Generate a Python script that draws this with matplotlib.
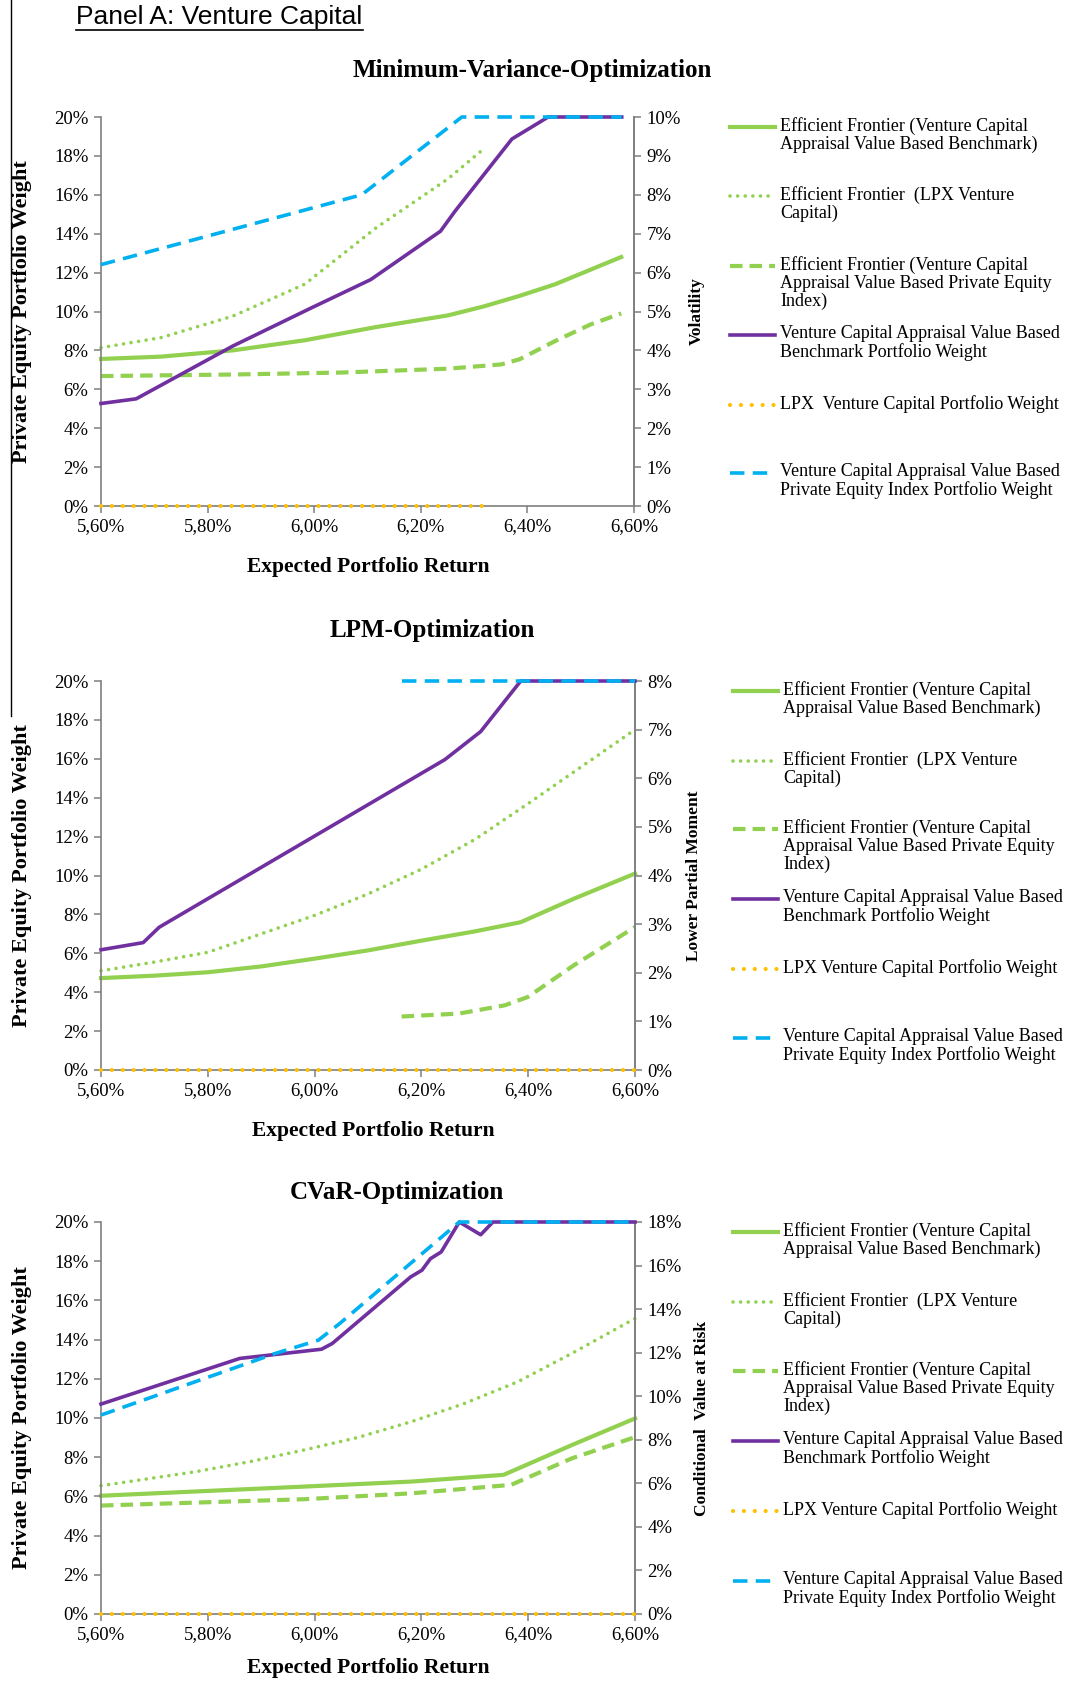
import matplotlib
matplotlib.use("Agg")
import matplotlib.pyplot as plt
from matplotlib.lines import Line2D

W, H = 1072, 1682
SERIF = "Liberation Serif"
SANS = "Liberation Sans"
plt.rcParams["font.family"] = [SERIF, "DejaVu Serif"]

GREEN = "#92D050"
PURPLE = "#7030A0"
BLUE = "#00B0F0"
ORANGE = "#FFC000"
SPINE = "#7F7F7F"

# ── Data (all values in %) ───────────────────────────────────────────────────
x_ticks = [5.6, 5.8, 6.0, 6.2, 6.4, 6.6]
x_tick_labels = ["5,60%", "5,80%", "6,00%", "6,20%", "6,40%", "6,60%"]
left_ticks = [0, 2, 4, 6, 8, 10, 12, 14, 16, 18, 20]

# Minimum-variance optimisation
mv_bench_w_x = [5.600, 5.666, 5.847, 5.995, 6.106, 6.237, 6.264, 6.371, 6.439, 6.577]
mv_bench_w_y = [5.27, 5.51, 8.22, 10.19, 11.64, 14.13, 15.15, 18.87, 20.0, 20.0]
mv_index_w_x = [5.600, 6.089, 6.277, 6.577]
mv_index_w_y = [12.41, 16.00, 20.0, 20.0]
mv_lpx_w_x = [5.600, 6.318]
mv_lpx_w_y = [0.0, 0.0]
mv_risk_bench_x = [5.600, 5.713, 5.847, 5.982, 6.116, 6.251, 6.318, 6.385, 6.452, 6.576]
mv_risk_bench_y = [3.78, 3.84, 4.00, 4.26, 4.60, 4.90, 5.13, 5.40, 5.70, 6.40]
mv_risk_lpx_x = [5.600, 5.713, 5.847, 5.982, 6.116, 6.251, 6.318]
mv_risk_lpx_y = [4.07, 4.33, 4.88, 5.70, 7.15, 8.41, 9.18]
mv_risk_index_x = [5.600, 5.847, 6.049, 6.251, 6.351, 6.385, 6.452, 6.519, 6.576]
mv_risk_index_y = [3.34, 3.38, 3.43, 3.53, 3.64, 3.77, 4.24, 4.67, 4.95]

# LPM optimisation
lpm_bench_w_x = [5.600, 5.679, 5.709, 6.244, 6.311, 6.386, 6.600]
lpm_bench_w_y = [6.18, 6.55, 7.34, 15.96, 17.40, 20.0, 20.0]
lpm_index_w_x = [6.163, 6.600]
lpm_index_w_y = [20.0, 20.0]
lpm_lpx_w_x = [5.600, 6.600]
lpm_lpx_w_y = [0.0, 0.0]
lpm_risk_bench_x = [5.60, 5.70, 5.80, 5.90, 6.00, 6.10, 6.20, 6.30, 6.386, 6.485, 6.60]
lpm_risk_bench_y = [1.89, 1.94, 2.01, 2.13, 2.29, 2.46, 2.66, 2.85, 3.04, 3.52, 4.04]
lpm_risk_lpx_x = [5.60, 5.70, 5.80, 5.90, 6.00, 6.10, 6.20, 6.30, 6.40, 6.50, 6.60]
lpm_risk_lpx_y = [2.04, 2.22, 2.42, 2.80, 3.18, 3.62, 4.13, 4.74, 5.48, 6.24, 7.00]
lpm_risk_index_x = [6.163, 6.270, 6.356, 6.399, 6.485, 6.600]
lpm_risk_index_y = [1.10, 1.16, 1.33, 1.50, 2.15, 2.94]

# CVaR optimisation
cv_bench_w_x = [5.600, 5.860, 5.913, 6.013, 6.033, 6.180, 6.201, 6.217, 6.237, 6.271, 6.311, 6.334, 6.600]
cv_bench_w_y = [10.71, 13.04, 13.20, 13.51, 13.80, 17.20, 17.54, 18.13, 18.47, 20.0, 19.35, 20.0, 20.0]
cv_index_w_x = [5.600, 5.926, 6.007, 6.047, 6.271, 6.600]
cv_index_w_y = [10.15, 13.29, 13.97, 14.82, 20.0, 20.0]
cv_lpx_w_x = [5.600, 6.600]
cv_lpx_w_y = [0.0, 0.0]
cv_risk_bench_x = [5.600, 5.980, 6.181, 6.354, 6.482, 6.600]
cv_risk_bench_y = [5.43, 5.85, 6.08, 6.39, 7.76, 8.98]
cv_risk_lpx_x = [5.600, 5.779, 5.880, 5.980, 6.080, 6.181, 6.281, 6.381, 6.482, 6.600]
cv_risk_lpx_y = [5.89, 6.54, 7.00, 7.53, 8.10, 8.83, 9.67, 10.67, 11.97, 13.57]
cv_risk_index_x = [5.600, 5.980, 6.181, 6.368, 6.482, 6.600]
cv_risk_index_y = [4.98, 5.27, 5.54, 5.93, 7.15, 8.12]

legend_labels_mv = [
    "Efficient Frontier (Venture Capital\nAppraisal Value Based Benchmark)",
    "Efficient Frontier  (LPX Venture\nCapital)",
    "Efficient Frontier (Venture Capital\nAppraisal Value Based Private Equity\nIndex)",
    "Venture Capital Appraisal Value Based\nBenchmark Portfolio Weight",
    "LPX  Venture Capital Portfolio Weight",
    "Venture Capital Appraisal Value Based\nPrivate Equity Index Portfolio Weight",
]
legend_labels = list(legend_labels_mv)
legend_labels[4] = "LPX Venture Capital Portfolio Weight"

STYLES = {
    "risk_bench": dict(color=GREEN, lw=3.0, ls="-"),
    "risk_lpx": dict(color=GREEN, lw=2.6, ls=(0, (0.01, 2.1)), dash_capstyle="round"),
    "risk_index": dict(color=GREEN, lw=3.0, ls=(0, (3.0, 1.7))),
    "bench_w": dict(color=PURPLE, lw=2.6, ls="-"),
    "lpx_w": dict(color=ORANGE, lw=3.0, ls=(0, (0.01, 2.6)), dash_capstyle="round"),
    "index_w": dict(color=BLUE, lw=2.6, ls=(0, (4.0, 2.3))),
}
ORDER = ["risk_bench", "risk_lpx", "risk_index", "bench_w", "lpx_w", "index_w"]

fig = plt.figure(figsize=(W / 100, H / 100), dpi=100)
over = fig.add_axes([0, 0, 1, 1], zorder=5)
over.set_xlim(0, W)
over.set_ylim(H, 0)
over.axis("off")
leg_shift = matplotlib.transforms.ScaledTranslation(0, 10 / 100, fig.dpi_scale_trans)


def px_axes(l, t, r, b):
    return fig.add_axes([l / W, 1 - b / H, (r - l) / W, (b - t) / H])


def panel(box, title, title_xy, xlabel_xy, rlabel, rlabel_x, rmax, rstep,
          weights, risks, leg_y, leg_x0, labels):
    ax = px_axes(*box)
    ax2 = ax.twinx()
    ax.set_zorder(2)
    ax2.set_zorder(1)
    ax.patch.set_visible(False)

    # portfolio weights on the left axis
    for key in ["bench_w", "index_w", "lpx_w"]:
        xs, ys = weights[key]
        ax.plot(xs, ys, clip_on=False, zorder=4 if key == "index_w" else 3, **STYLES[key])
    # risk measure on the right axis
    for key in ["risk_bench", "risk_lpx", "risk_index"]:
        xs, ys = risks[key]
        ax2.plot(xs, ys, clip_on=False, **STYLES[key])

    ax.set_xlim(5.6, 6.6)
    ax.set_ylim(0, 20)
    ax2.set_ylim(0, rmax)
    ax.set_xticks(x_ticks)
    ax.set_xticklabels(x_tick_labels)
    ax.set_yticks(left_ticks)
    ax.set_yticklabels([f"{v}%" for v in left_ticks])
    rt = list(range(0, rmax + 1, rstep))
    ax2.set_yticks(rt)
    ax2.set_yticklabels([f"{v}%" for v in rt])

    for a in (ax, ax2):
        a.spines["top"].set_visible(False)
        for s in a.spines.values():
            s.set_color(SPINE)
            s.set_linewidth(1.2)
        a.tick_params(direction="out", length=5, width=1.1, color=SPINE,
                      labelsize=13.5, pad=4)
    ax2.spines["left"].set_visible(False)
    ax2.spines["bottom"].set_visible(False)

    cy = (box[1] + box[3]) / 2
    over.text(22, cy, "Private Equity Portfolio Weight", rotation=90, ha="center",
              va="center", fontweight="bold", fontsize=16)
    over.text(rlabel_x, cy, rlabel, rotation=90, ha="center", va="center",
              fontweight="bold", fontsize=12.5)
    over.text(title_xy[0], title_xy[1], title, ha="center", va="center",
              fontweight="bold", fontsize=18)
    over.text(xlabel_xy[0], xlabel_xy[1], "Expected Portfolio Return", ha="center",
              va="center", fontweight="bold", fontsize=15.5)

    # legend, entry by entry
    for key, y, lab in zip(ORDER, leg_y, labels):
        over.add_line(Line2D([leg_x0, leg_x0 + 45], [y, y], **STYLES[key]))
        over.text(leg_x0 + 50, y, lab, ha="left", va="top", fontsize=13,
                  linespacing=1.08, transform=over.transData + leg_shift)
    return ax, ax2


panel((101, 117, 634, 506), "Minimum-Variance-Optimization", (532, 70), (368, 567),
      "Volatility", 697, 10, 1,
      {"bench_w": (mv_bench_w_x, mv_bench_w_y), "index_w": (mv_index_w_x, mv_index_w_y),
       "lpx_w": (mv_lpx_w_x, mv_lpx_w_y)},
      {"risk_bench": (mv_risk_bench_x, mv_risk_bench_y),
       "risk_lpx": (mv_risk_lpx_x, mv_risk_lpx_y),
       "risk_index": (mv_risk_index_x, mv_risk_index_y)},
      [127, 196, 266, 335, 405, 473], 730, legend_labels_mv)

panel((101, 681, 635, 1070), "LPM-Optimization", (432, 631), (373, 1131),
      "Lower Partial Moment", 694, 8, 1,
      {"bench_w": (lpm_bench_w_x, lpm_bench_w_y), "index_w": (lpm_index_w_x, lpm_index_w_y),
       "lpx_w": (lpm_lpx_w_x, lpm_lpx_w_y)},
      {"risk_bench": (lpm_risk_bench_x, lpm_risk_bench_y),
       "risk_lpx": (lpm_risk_lpx_x, lpm_risk_lpx_y),
       "risk_index": (lpm_risk_index_x, lpm_risk_index_y)},
      [691, 761, 829, 899, 969, 1038], 733, legend_labels)

panel((101, 1222, 635, 1614), "CVaR-Optimization", (397, 1193), (368, 1668),
      "Conditional  Value at Risk", 702, 18, 2,
      {"bench_w": (cv_bench_w_x, cv_bench_w_y), "index_w": (cv_index_w_x, cv_index_w_y),
       "lpx_w": (cv_lpx_w_x, cv_lpx_w_y)},
      {"risk_bench": (cv_risk_bench_x, cv_risk_bench_y),
       "risk_lpx": (cv_risk_lpx_x, cv_risk_lpx_y),
       "risk_index": (cv_risk_index_x, cv_risk_index_y)},
      [1232, 1302, 1371, 1441, 1511, 1581], 733, legend_labels)

# panel heading and left rule
over.text(76, 17, "Panel A: Venture Capital", ha="left", va="center",
          fontfamily=SANS, fontsize=19)
over.add_line(Line2D([76, 363], [30, 30], color="black", lw=1.2))
over.add_line(Line2D([11, 11], [0, 716], color="black", lw=1.0))

fig.savefig("out.png", dpi=100)
